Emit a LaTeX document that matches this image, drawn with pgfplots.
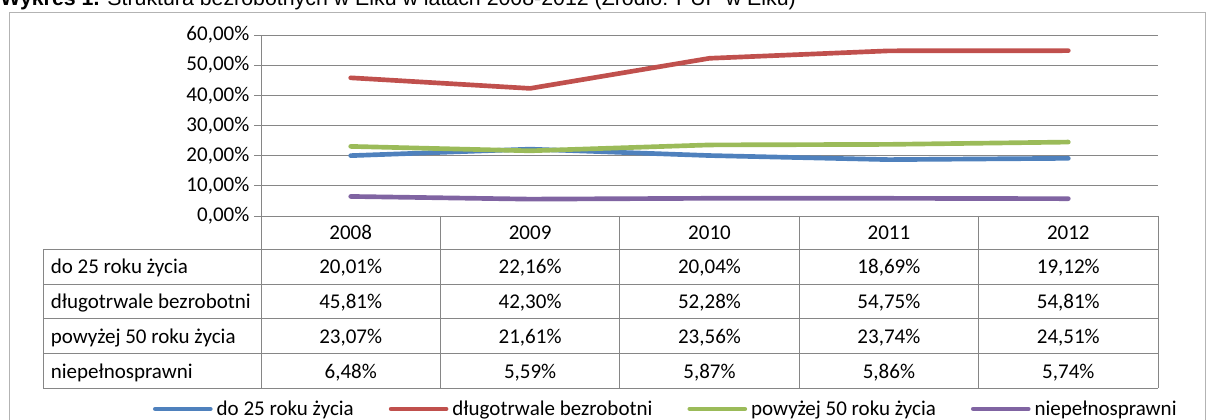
\documentclass[border=0pt]{standalone}
\usepackage{pgfplots}
\pgfplotsset{compat=1.18}
\usepackage{pgfplotstable}
\usepackage{fontspec}
\setmainfont{Carlito}
\newfontfamily\arialfont{Liberation Sans}
\definecolor{sblue}{HTML}{4F81BD}
\definecolor{sred}{HTML}{C0504D}
\definecolor{sgreen}{HTML}{9BBB59}
\definecolor{spurple}{HTML}{8064A2}
\definecolor{gridgray}{HTML}{868686}
\definecolor{boxgray}{HTML}{B3B3B3}
\pgfkeys{/pgf/number format/assume math mode=true}

\pgfplotstableread{
year do25 dlugo pow50 niep
2008 20.01 45.81 23.07 6.48
2009 22.16 42.30 21.61 5.59
2010 20.04 52.28 23.56 5.87
2011 18.69 54.75 23.74 5.86
2012 19.12 54.81 24.51 5.74
}\datatable

\begin{document}
\begin{tikzpicture}[font=\fontsize{15.75}{18}\selectfont]
\useasboundingbox (0,0) rectangle (904.5pt,-315pt);
\clip (0,0) rectangle (904.5pt,-315pt);
\begin{scope}[x=0.75pt,y=-0.75pt, tbl/.style={gridgray,line width=0.75pt}]
  \draw[boxgray, line width=0.75pt] (9,12.5) rectangle (1205.5,440);
  \node[anchor=base west, inner sep=0pt, font=\arialfont\fontsize{16}{18}\selectfont] at (0,6)
    {\textbf{Wykres 1.} Struktura bezrobotnych w Ełku w latach 2008-2012 (Źródło: PUP w Ełku)};
  % table grid
  \foreach \yy in {249.5,284.2,318.9,353.6,388.3} \draw[tbl] (43,\yy) -- (1158,\yy);
  \draw[tbl] (43,249.5) -- (43,388.3);
  \foreach \xx in {261,440.4,619.8,799.2,978.6,1158} \draw[tbl] (\xx,216) -- (\xx,388.3);
  % header
  \foreach \i/\yr in {0/2008,1/2009,2/2010,3/2011,4/2012}
    \node[anchor=base, inner sep=0pt] at ({350.7+179.4*\i},240) {\yr};
  % row labels
  \foreach \ry/\lab in {274/{do 25 roku życia}, 308.7/{długotrwale bezrobotni}, 343.4/{powyżej 50 roku życia}, 378/{niepełnosprawni}}
    \node[anchor=base west, inner sep=0pt] at (50.5,\ry) {\lab};
  % values
  \foreach \c/\ry in {do25/274, dlugo/308.7, pow50/343.4, niep/378} {
    \foreach \r in {0,...,4} {
      \pgfplotstablegetelem{\r}{\c}\of\datatable
      \node[anchor=base, inner sep=0pt] at ({350.7+179.4*\r},\ry)
        {\pgfmathprintnumber[fixed,fixed zerofill,precision=2,use comma]{\pgfplotsretval}\%};
    }
  }
\end{scope}
\begin{axis}[
  at={(195.75pt,-162pt)}, anchor=south west,
  width=672.75pt, height=135.75pt, scale only axis,
  xmin=-0.5, xmax=4.5, ymin=0, ymax=60,
  axis lines*=left,
  axis line style={gridgray, line width=0.75pt},
  xtick=\empty,
  ytick={0,10,...,60},
  yticklabel={\pgfmathprintnumber[fixed,fixed zerofill,precision=2,use comma]{\tick}\%},
  tick label style={font=\fontsize{15.75}{18}\selectfont},
  tick align=outside,
  major tick length=5.25pt,
  ytick style={gridgray, line width=0.75pt},
  ymajorgrids,
  grid style={gridgray, line width=0.75pt},
  clip=false,
  legend columns=4,
  legend cell align=left,
  legend style={at={(axis description cs:-0.1204,-1.066)}, anchor=west, draw=none, fill=none,
    inner sep=0pt, outer sep=0pt,
    nodes={inner sep=0pt},
    font=\fontsize{15.75}{18}\selectfont,
    /tikz/every odd column/.append style={column sep=3pt},
    /tikz/every even column/.append style={column sep=26.25pt}},
  legend image code/.code={
    \draw[line width=3.5pt, line cap=round] (1.75pt,0pt) -- (39.5pt,0pt);
    \path (0pt,0pt) -- (41.25pt,0pt);
  },
  every axis plot/.append style={line width=3.5pt, line cap=round, line join=round},
]
\addplot[sblue] table[x expr=\coordindex, y=do25] {\datatable};
\addlegendentry{do 25 roku życia}
\addplot[sred] table[x expr=\coordindex, y=dlugo] {\datatable};
\addlegendentry{długotrwale bezrobotni}
\addplot[sgreen] table[x expr=\coordindex, y=pow50] {\datatable};
\addlegendentry{powyżej 50 roku życia}
\addplot[spurple] table[x expr=\coordindex, y=niep] {\datatable};
\addlegendentry{niepełnosprawni}
\end{axis}
\end{tikzpicture}
\end{document}
